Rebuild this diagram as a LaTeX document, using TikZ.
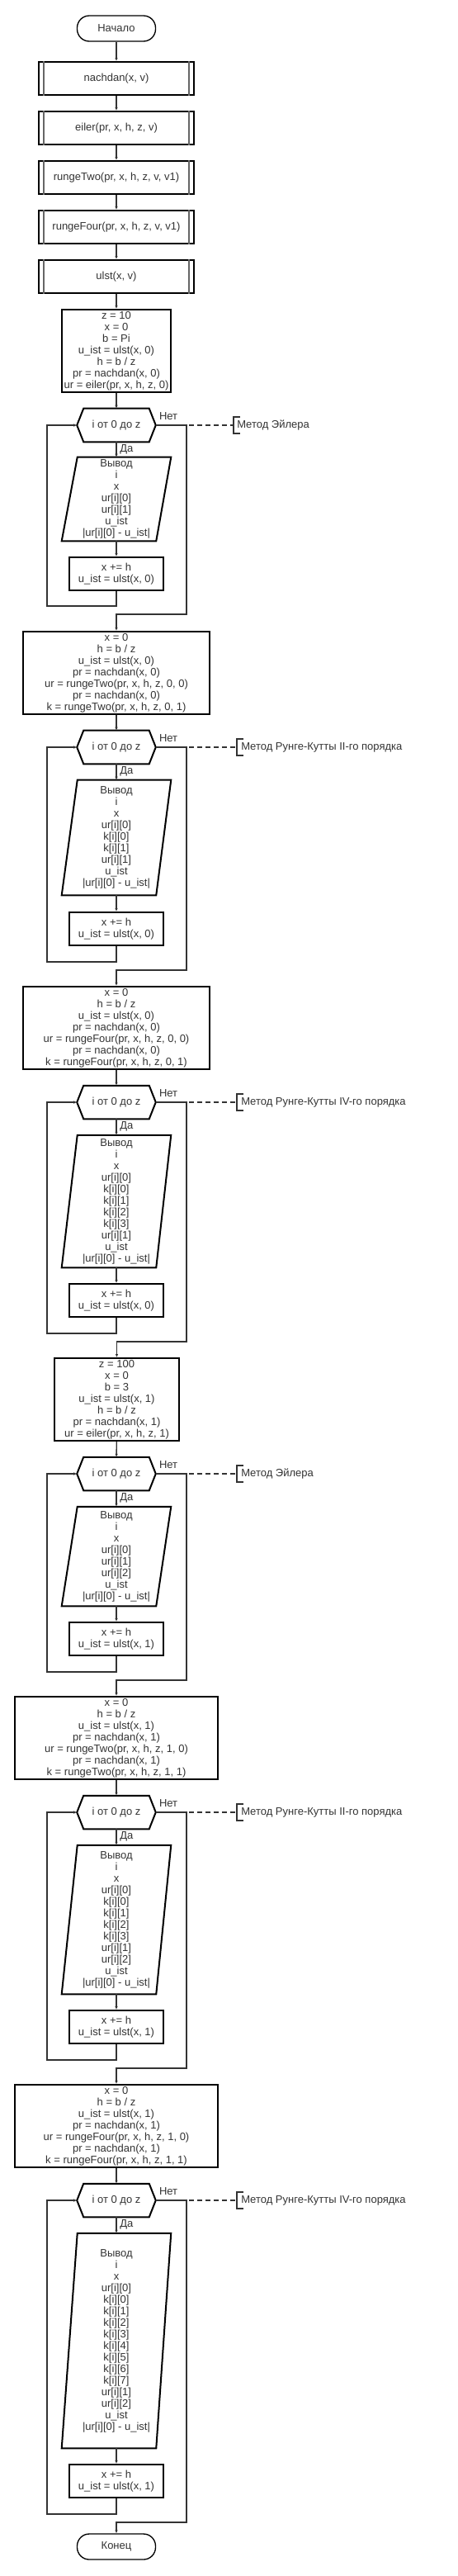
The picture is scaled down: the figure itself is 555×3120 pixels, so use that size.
\documentclass[tikz,border=0pt]{standalone}
\usepackage{fontspec}
\setmainfont{Liberation Sans}
\usetikzlibrary{arrows.meta}
\definecolor{txt}{HTML}{333333}
\definecolor{lnc}{HTML}{333333}
\definecolor{inl}{HTML}{666666}
\newcommand\mkhex[1]{\draw[shapeline] (#1.west) -- ([xshift=6pt]#1.north west) -- ([xshift=-6pt]#1.north east) -- (#1.east) -- ([xshift=-6pt]#1.south east) -- ([xshift=6pt]#1.south west) -- cycle;}
\newcommand\mkpara[1]{\draw[shapeline] ([xshift=14.25pt]#1.north west) -- (#1.north east) -- ([xshift=-13.5pt]#1.south east) -- (#1.south west) -- cycle;}
\newcommand\mkpp[1]{\draw[innerl] ([xshift=5.25pt]#1.north west) -- ([xshift=5.25pt]#1.south west); \draw[innerl] ([xshift=-5.25pt]#1.north east) -- ([xshift=-5.25pt]#1.south east);}
\newcommand\mkbr[1]{\draw[conn] ([shift={(8,-10)}]#1) -- ([shift={(0,-10)}]#1) -- ([shift={(0,10)}]#1) -- ([shift={(8,10)}]#1);}
\begin{document}
\begin{tikzpicture}[x=0.75pt,y=-0.75pt,
 every node/.style={font=\fontsize{9.75pt}{10.5pt}\selectfont, text=txt, inner sep=0pt, align=center},
 shapeline/.style={draw=black, line width=1.5pt},
 innerl/.style={draw=inl, line width=1.5pt},
 term/.style={draw=black, line width=1pt, rounded corners=11pt, minimum width=71.25pt, minimum height=23.25pt},
 pproc/.style={draw=black, line width=1.5pt, minimum width=141pt, minimum height=30pt},
 proc/.style={draw=black, line width=1.5pt, minimum height=75pt},
 hexbox/.style={minimum width=71.25pt, minimum height=30pt},
 outbox/.style={minimum width=99pt},
 incbox/.style={draw=black, line width=1.5pt, minimum width=85.5pt, minimum height=30pt},
 conn/.style={draw=lnc, line width=1pt},
 arr/.style={conn, -{Latex[length=3pt,width=2.6pt]}},
 note/.style={anchor=west},
 lbl/.style={anchor=west},
 dashline/.style={conn, dash pattern=on 4.5pt off 3pt},
]
\useasboundingbox (0,0) rectangle (555,3120);
\fill[white] (0,0) rectangle (555,3120);

% header
\node[term] (start) at (141,34.5) {Начало};
\node[pproc] (f1) at (141,95) {nachdan(x, v)};
\node[pproc] (f2) at (141,155) {eiler(pr, x, h, z, v)};
\node[pproc] (f3) at (141,215) {rungeTwo(pr, x, h, z, v, v1)};
\node[pproc] (f4) at (141,275) {rungeFour(pr, x, h, z, v, v1)};
\node[pproc] (f5) at (141,335) {ulst(x, v)};
\foreach \n in {f1,f2,f3,f4,f5} {\mkpp{\n}}

% section 1
\node[proc, minimum width=99pt] (b1) at (141,425) {z = 10\\x = 0\\b = Pi\\u\_ist = ulst(x, 0)\\h = b / z\\pr = nachdan(x, 0)\\ur = eiler(pr, x, h, z, 0)};
\node[hexbox] (h1) at (141,515) {i от 0 до z}; \mkhex{h1}
\node[outbox, minimum height=75.75pt] (o1) at (141,604.5) {Вывод\\i\\x\\ur[i][0]\\ur[i][1]\\u\_ist\\|ur[i][0] - u\_ist|}; \mkpara{o1}
\node[incbox] (i1) at (141,695) {x += h\\u\_ist = ulst(x, 0)};
\coordinate (l1) at (57,734); \coordinate (e1) at (226,744); \coordinate (k1) at (283,515);
\node[note] (n1) at (287,515) {Метод Эйлера};

% section 2
\node[proc, minimum width=169.5pt] (b2) at (141,815) {x = 0\\h = b / z\\u\_ist = ulst(x, 0)\\pr = nachdan(x, 0)\\ur = rungeTwo(pr, x, h, z, 0, 0)\\pr = nachdan(x, 0)\\k = rungeTwo(pr, x, h, z, 0, 1)};
\node[hexbox] (h2) at (141,905) {i от 0 до z}; \mkhex{h2}
\node[outbox, minimum height=104.25pt] (o2) at (141,1014.5) {Вывод\\i\\x\\ur[i][0]\\k[i][0]\\k[i][1]\\ur[i][1]\\u\_ist\\|ur[i][0] - u\_ist|}; \mkpara{o2}
\node[incbox] (i2) at (141,1125) {x += h\\u\_ist = ulst(x, 0)};
\coordinate (l2) at (57,1165); \coordinate (e2) at (226,1175); \coordinate (k2) at (287,905);
\node[note] (n2) at (292,905) {Метод Рунге-Кутты II-го порядка};

% section 3
\node[proc, minimum width=169.5pt] (b3) at (141,1245) {x = 0\\h = b / z\\u\_ist = ulst(x, 0)\\pr = nachdan(x, 0)\\ur = rungeFour(pr, x, h, z, 0, 0)\\pr = nachdan(x, 0)\\k = rungeFour(pr, x, h, z, 0, 1)};
\node[hexbox] (h3) at (141,1335) {i от 0 до z}; \mkhex{h3}
\node[outbox, minimum height=120pt] (o3) at (141,1455) {Вывод\\i\\x\\ur[i][0]\\k[i][0]\\k[i][1]\\k[i][2]\\k[i][3]\\ur[i][1]\\u\_ist\\|ur[i][0] - u\_ist|}; \mkpara{o3}
\node[incbox] (i3) at (141,1575) {x += h\\u\_ist = ulst(x, 0)};
\coordinate (l3) at (57,1615); \coordinate (e3) at (226,1625); \coordinate (k3) at (287,1335);
\node[note] (n3) at (292,1335) {Метод Рунге-Кутты IV-го порядка};

% section 4
\node[proc, minimum width=113.25pt] (b4) at (141.5,1695) {z = 100\\x = 0\\b = 3\\u\_ist = ulst(x, 1)\\h = b / z\\pr = nachdan(x, 1)\\ur = eiler(pr, x, h, z, 1)};
\node[hexbox] (h4) at (141,1785) {i от 0 до z}; \mkhex{h4}
\node[outbox, minimum height=90pt] (o4) at (141,1885) {Вывод\\i\\x\\ur[i][0]\\ur[i][1]\\ur[i][2]\\u\_ist\\|ur[i][0] - u\_ist|}; \mkpara{o4}
\node[incbox] (i4) at (141,1985) {x += h\\u\_ist = ulst(x, 1)};
\coordinate (l4) at (57,2025); \coordinate (e4) at (226,2035); \coordinate (k4) at (287,1785);
\node[note] (n4) at (292,1785) {Метод Эйлера};

% section 5
\node[proc, minimum width=184.5pt] (b5) at (141,2105) {x = 0\\h = b / z\\u\_ist = ulst(x, 1)\\pr = nachdan(x, 1)\\ur = rungeTwo(pr, x, h, z, 1, 0)\\pr = nachdan(x, 1)\\k = rungeTwo(pr, x, h, z, 1, 1)};
\node[hexbox] (h5) at (141,2195) {i от 0 до z}; \mkhex{h5}
\node[outbox, minimum height=135pt] (o5) at (141,2325) {Вывод\\i\\x\\ur[i][0]\\k[i][0]\\k[i][1]\\k[i][2]\\k[i][3]\\ur[i][1]\\ur[i][2]\\u\_ist\\|ur[i][0] - u\_ist|}; \mkpara{o5}
\node[incbox] (i5) at (141,2455) {x += h\\u\_ist = ulst(x, 1)};
\coordinate (l5) at (57,2495); \coordinate (e5) at (226,2505); \coordinate (k5) at (287,2195);
\node[note] (n5) at (292,2195) {Метод Рунге-Кутты II-го порядка};

% section 6
\node[proc, minimum width=184.5pt] (b6) at (141,2575) {x = 0\\h = b / z\\u\_ist = ulst(x, 1)\\pr = nachdan(x, 1)\\ur = rungeFour(pr, x, h, z, 1, 0)\\pr = nachdan(x, 1)\\k = rungeFour(pr, x, h, z, 1, 1)};
\node[hexbox] (h6) at (141,2665) {i от 0 до z}; \mkhex{h6}
\node[outbox, minimum height=195pt] (o6) at (141,2835) {Вывод\\i\\x\\ur[i][0]\\k[i][0]\\k[i][1]\\k[i][2]\\k[i][3]\\k[i][4]\\k[i][5]\\k[i][6]\\k[i][7]\\ur[i][1]\\ur[i][2]\\u\_ist\\|ur[i][0] - u\_ist|}; \mkpara{o6}
\node[incbox] (i6) at (141,3005) {x += h\\u\_ist = ulst(x, 1)};
\coordinate (l6) at (57,3045); \coordinate (e6) at (226,3055); \coordinate (k6) at (287,2665);
\node[note] (n6) at (292,2665) {Метод Рунге-Кутты IV-го порядка};

\node[term] (end) at (141,3084.5) {Конец};

% connectors
\draw[arr] (start) -- (f1);
\draw[arr] (f1) -- (f2);
\draw[arr] (f2) -- (f3);
\draw[arr] (f3) -- (f4);
\draw[arr] (f4) -- (f5);
\draw[arr] (f5) -- (b1);
\foreach \s/\t in {1/2,2/3,3/4,4/5,5/6} {
  \draw[arr] (b\s) -- (h\s);
  \draw[arr] (h\s) -- (o\s);
  \draw[arr] (o\s) -- (i\s);
  \draw[arr] (i\s.south) |- (l\s) |- (h\s.west);
  \draw[arr] (h\s.east) -| (e\s) -| (b\t.north);
  \draw[dashline] (h\s.east) -- (k\s);
  \mkbr{k\s}
  \node[lbl] at ([shift={(4,-11)}]h\s.east) {Нет};
  \node[lbl] at ([shift={(4,9)}]h\s.south) {Да};
}
\draw[arr] (b6) -- (h6);
\draw[arr] (h6) -- (o6);
\draw[arr] (o6) -- (i6);
\draw[arr] (i6.south) |- (l6) |- (h6.west);
\draw[arr] (h6.east) -| (e6) -| (end.north);
\draw[dashline] (h6.east) -- (k6);
\mkbr{k6}
\node[lbl] at ([shift={(4,-11)}]h6.east) {Нет};
\node[lbl] at ([shift={(4,9)}]h6.south) {Да};
\end{tikzpicture}
\end{document}
